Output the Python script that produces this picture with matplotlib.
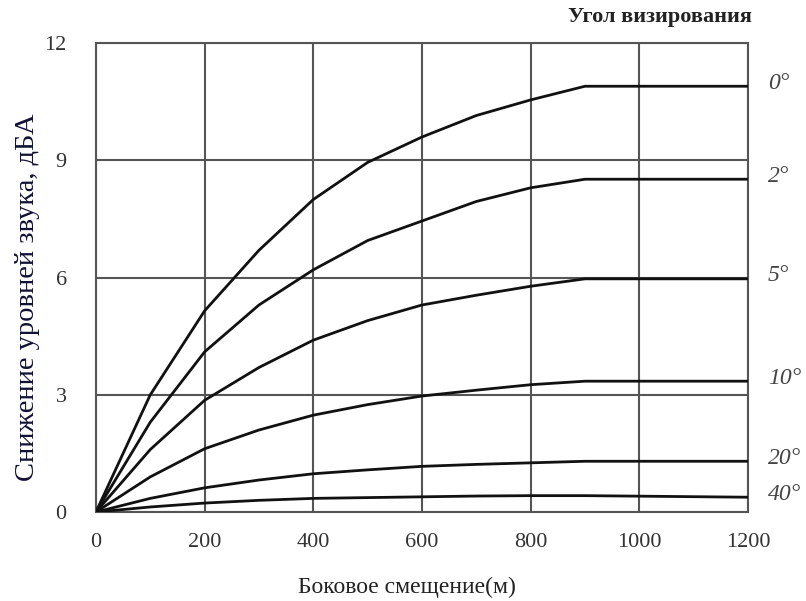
import matplotlib
matplotlib.use("Agg")
import matplotlib.pyplot as plt

# lateral offset, m
offset = [0, 100, 200, 300, 400, 500, 600, 700, 800, 900, 1200]

# sound level reduction, dBA, one list per sighting angle
angles = ["0°", "2°", "5°", "10°", "20°", "40°"]
drop_0 = [0, 3.0, 5.15, 6.7, 8.0, 8.95, 9.6, 10.15, 10.55, 10.9, 10.9]
drop_2 = [0, 2.3, 4.1, 5.3, 6.2, 6.95, 7.45, 7.95, 8.3, 8.52, 8.52]
drop_5 = [0, 1.6, 2.86, 3.7, 4.4, 4.9, 5.3, 5.55, 5.78, 5.97, 5.97]
drop_10 = [0, 0.9, 1.62, 2.1, 2.48, 2.75, 2.97, 3.12, 3.26, 3.35, 3.35]
drop_20 = [0, 0.35, 0.62, 0.82, 0.98, 1.08, 1.17, 1.22, 1.26, 1.3, 1.3]
drop_40 = [0, 0.13, 0.23, 0.3, 0.35, 0.37, 0.39, 0.41, 0.42, 0.42, 0.38]
curves = [drop_0, drop_2, drop_5, drop_10, drop_20, drop_40]

plt.rcParams["font.family"] = ["Liberation Serif", "DejaVu Serif"]

fig = plt.figure(figsize=(8.06, 6.01), dpi=100)
ax = fig.add_axes([0.119, 0.148, 0.809, 0.780])

grid_col = "#555555"
for y in curves:
    ax.plot(offset, y, color="#111111", lw=2.0, solid_capstyle="butt", zorder=3)

ax.set_xlim(0, 1200)
ax.set_ylim(0, 12)
ax.set_xticks(range(0, 1201, 200))
ax.set_yticks([0, 3, 6, 9, 12])
ax.grid(True, color=grid_col, lw=1.5)
for s in ax.spines.values():
    s.set_color(grid_col)
    s.set_linewidth(1.5)
ax.tick_params(length=0, labelsize=16, colors="#333333")
ax.tick_params(axis="x", pad=15)
ax.tick_params(axis="y", pad=21)

# curve labels on the right
for lab, y in zip(angles, curves):
    ax.text(1237, y[-1] + 0.08, lab, fontsize=17, style="italic", color="#444444",
            ha="left", va="center", clip_on=False)

fig.text(0.933, 0.971, "Угол визирования", fontsize=16, ha="right", va="center",
         color="#222222", fontweight="bold")
fig.text(0.034, 0.505, "Снижение уровней звука, дБА", fontsize=20.5, rotation=90,
         ha="center", va="center", color="#111133")
fig.text(0.505, 0.023, "Боковое смещение(м)", fontsize=17, ha="center",
         va="center", color="#222222")

fig.savefig("out.png", dpi=100)
